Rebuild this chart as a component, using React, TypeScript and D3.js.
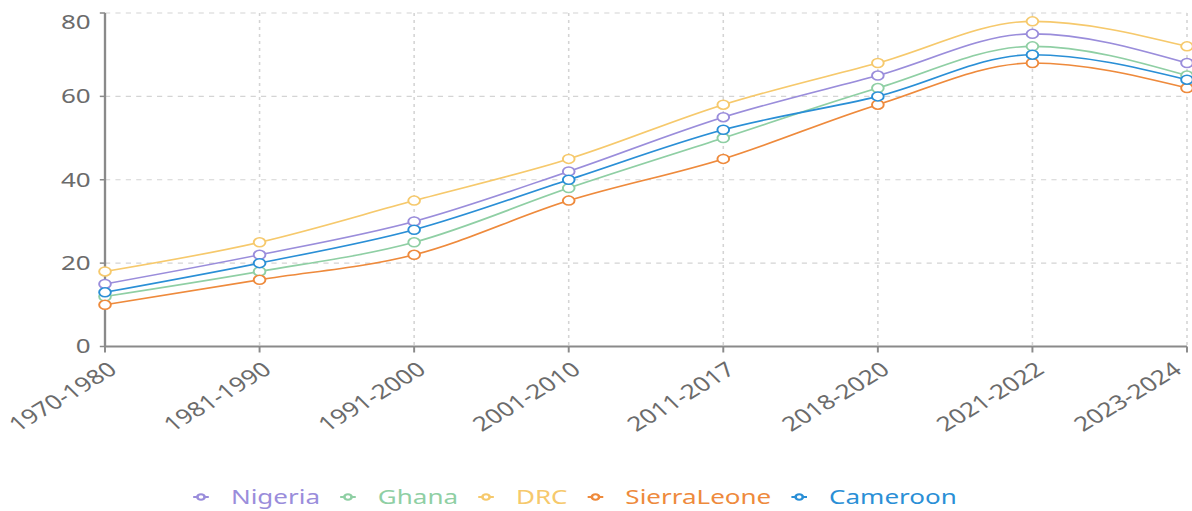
import React, { useEffect, useRef } from "react";
import * as d3 from "d3";

// Period categories along the x axis
const periods = [
  "1970-1980",
  "1981-1990",
  "1991-2000",
  "2001-2010",
  "2011-2017",
  "2018-2020",
  "2021-2022",
  "2023-2024",
];

// Series values per period
const nigeria = [15, 22, 30, 42, 55, 65, 75, 68];
const ghana = [12, 18, 25, 38, 50, 62, 72, 65];
const drc = [18, 25, 35, 45, 58, 68, 78, 72];
const sierraLeone = [10, 16, 22, 35, 45, 58, 68, 62];
const cameroon = [13, 20, 28, 40, 52, 60, 70, 64];

const seriesNames = ["Nigeria", "Ghana", "DRC", "SierraLeone", "Cameroon"];
const seriesValues = [nigeria, ghana, drc, sierraLeone, cameroon];
const seriesColors = ["#9a8ddb", "#8fcfa4", "#f6c96c", "#ee8a3c", "#2a8fd6"];

const yTicks = [0, 20, 40, 60, 80];

const WIDTH = 1192;
const HEIGHT = 511;
// The drawing is laid out in a narrower space and widened to fill the frame
const STRETCH = 1.3;
const VW = WIDTH / STRETCH;

const FONT = "'Noto Sans', 'Open Sans', sans-serif";

export default function App() {
  const ref = useRef<SVGSVGElement | null>(null);

  useEffect(() => {
    const svg = d3.select(ref.current);
    svg.selectAll("*").remove();

    const left = 105 / STRETCH;
    const right = 1187 / STRETCH;
    const top = 13;
    const bottom = 346.5;

    const x = d3.scalePoint<string>().domain(periods).range([left, right]);
    const y = d3.scaleLinear().domain([0, 80]).range([bottom, top]);

    const g = svg.append("g");

    // horizontal grid
    g.append("g")
      .selectAll("line")
      .data(yTicks.filter((t) => t > 0))
      .join("line")
      .attr("x1", left)
      .attr("x2", right)
      .attr("y1", (d) => y(d))
      .attr("y2", (d) => y(d))
      .attr("stroke", "#d4d4d4")
      .attr("stroke-width", 1.2)
      .attr("stroke-dasharray", "4 4");

    // vertical grid
    g.append("g")
      .selectAll("line")
      .data(periods.slice(1))
      .join("line")
      .attr("x1", (d) => x(d)!)
      .attr("x2", (d) => x(d)!)
      .attr("y1", top)
      .attr("y2", bottom)
      .attr("stroke", "#d4d4d4")
      .attr("stroke-width", 1.2)
      .attr("stroke-dasharray", "3 4");

    // axes lines
    const axisColor = "#8a8a8a";
    g.append("line")
      .attr("x1", left)
      .attr("x2", right)
      .attr("y1", bottom)
      .attr("y2", bottom)
      .attr("stroke", axisColor)
      .attr("stroke-width", 1.8);
    g.append("line")
      .attr("x1", left)
      .attr("x2", left)
      .attr("y1", top)
      .attr("y2", bottom)
      .attr("stroke", axisColor)
      .attr("stroke-width", 1.8);

    // x ticks
    g.append("g")
      .selectAll("line")
      .data(periods)
      .join("line")
      .attr("x1", (d) => x(d)!)
      .attr("x2", (d) => x(d)!)
      .attr("y1", bottom)
      .attr("y2", bottom + 6)
      .attr("stroke", axisColor)
      .attr("stroke-width", 1.5);

    // y ticks
    g.append("g")
      .selectAll("line")
      .data(yTicks)
      .join("line")
      .attr("x1", left - 4)
      .attr("x2", left)
      .attr("y1", (d) => y(d))
      .attr("y2", (d) => y(d))
      .attr("stroke", axisColor)
      .attr("stroke-width", 1.5);

    // y labels (the top one is kept inside the frame)
    g.append("g")
      .selectAll("text")
      .data(yTicks)
      .join("text")
      .attr("x", left - 11)
      .attr("y", (d) => Math.max(y(d), 22))
      .attr("dy", "0.35em")
      .attr("text-anchor", "end")
      .attr("font-family", FONT)
      .attr("font-size", 20)
      .attr("fill", "#6b6b6b")
      .text((d) => String(d));

    // x labels (the last one is kept inside the frame)
    g.append("g")
      .selectAll("text")
      .data(periods)
      .join("text")
      .attr(
        "transform",
        (d) => `translate(${Math.min(x(d)! + 6, VW - 11)},${bottom + 20}) rotate(-38)`
      )
      .attr("dy", "0.35em")
      .attr("text-anchor", "end")
      .attr("font-family", FONT)
      .attr("font-size", 20)
      .attr("fill", "#6b6b6b")
      .text((d) => d);

    // series
    const line = d3
      .line<number>()
      .x((_, i) => x(periods[i])!)
      .y((d) => y(d))
      .curve(d3.curveMonotoneX);

    seriesValues.forEach((vals, si) => {
      const color = seriesColors[si];
      const sg = g.append("g");
      sg.append("path")
        .attr("d", line(vals))
        .attr("fill", "none")
        .attr("stroke", color)
        .attr("stroke-width", 1.6);
      sg.selectAll("circle")
        .data(vals)
        .join("circle")
        .attr("cx", (_, i) => x(periods[i])!)
        .attr("cy", (d) => y(d))
        .attr("r", 4.5)
        .attr("fill", "#fff")
        .attr("stroke", color)
        .attr("stroke-width", 1.5);
    });

    // legend
    const legendY = 497;
    const iconW = 12;
    const textOffset = 29;
    const itemGap = 15.5;
    const lg = svg.append("g");
    const items = seriesNames.map((name, i) => {
      const item = lg.append("g");
      const color = seriesColors[i];
      item
        .append("line")
        .attr("x1", 0)
        .attr("x2", iconW)
        .attr("y1", 0)
        .attr("y2", 0)
        .attr("stroke", color)
        .attr("stroke-width", 2);
      item
        .append("circle")
        .attr("cx", iconW / 2)
        .attr("cy", 0)
        .attr("r", 2.8)
        .attr("fill", "#fff")
        .attr("stroke", color)
        .attr("stroke-width", 2);
      const t = item
        .append("text")
        .attr("x", textOffset)
        .attr("y", 0)
        .attr("dy", "0.35em")
        .attr("font-family", FONT)
        .attr("font-size", 20)
        .attr("fill", color)
        .text(name);
      const w = (t.node() as SVGTextElement).getComputedTextLength();
      return { item, width: textOffset + w };
    });
    const total =
      items.reduce((s, it) => s + it.width, 0) + itemGap * (items.length - 1);
    let cx = 575 / STRETCH - total / 2;
    items.forEach((it) => {
      it.item.attr("transform", `translate(${cx},${legendY})`);
      cx += it.width + itemGap;
    });
  }, []);

  return (
    <svg
      ref={ref}
      width={WIDTH}
      height={HEIGHT}
      viewBox={`0 0 ${VW} ${HEIGHT}`}
      preserveAspectRatio="none"
      style={{ position: "absolute", left: 0, top: 0, background: "#fff" }}
    />
  );
}
